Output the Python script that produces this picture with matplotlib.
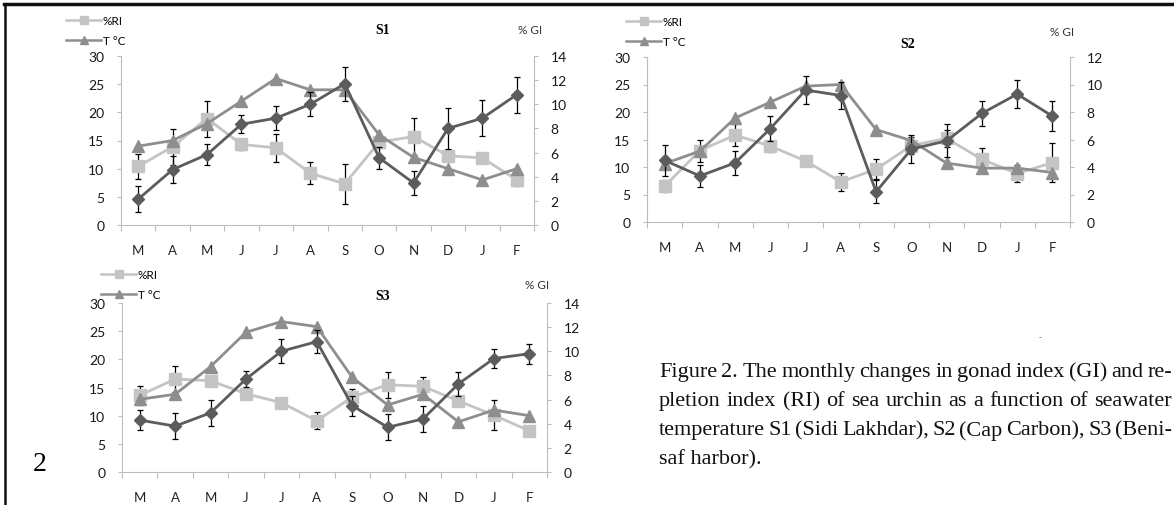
import matplotlib
matplotlib.use("Agg")
import matplotlib.pyplot as plt
from matplotlib.lines import Line2D

# data
months = ['M', 'A', 'M', 'J', 'J', 'A', 'S', 'O', 'N', 'D', 'J', 'F']

# S1 (Sidi Lakhdar)
t1 = [14, 15, 18, 22, 26, 24, 24, 16, 12, 10, 8, 10]
ri1 = [10.4, 13.9, 18.9, 14.3, 13.7, 9.2, 7.3, 14.7, 15.7, 12.3, 11.9, 8.0]
ri1_err = [2.2, 3.2, 3.2, 1.0, 2.5, 1.9, 3.5, 1.0, 3.3, 1.0, 0.8, 1.0]
gi1 = [2.14, 4.59, 5.84, 8.35, 8.85, 10.0, 11.7, 5.57, 3.48, 8.0, 8.85, 10.8]
gi1_err = [1.1, 1.1, 0.9, 0.75, 1.0, 1.0, 1.4, 0.9, 1.0, 1.7, 1.5, 1.5]

# S2 (Cap Carbon)
t2 = [10.6, 12.9, 18.9, 21.8, 24.7, 25.0, 16.8, 14.8, 10.7, 9.8, 9.8, 9.0]
ri2 = [6.5, 13.0, 15.8, 13.8, 11.1, 7.3, 9.6, 13.9, 15.2, 11.4, 8.8, 10.8]
ri2_err = [1.1, 2.0, 2.0, 1.0, 0.8, 1.6, 1.8, 1.5, 1.5, 2.1, 1.5, 3.6]
gi2 = [4.48, 3.35, 4.3, 6.8, 9.6, 9.2, 2.2, 5.3, 5.9, 7.9, 9.3, 7.7]
gi2_err = [1.1, 0.8, 0.85, 0.9, 1.05, 0.97, 0.85, 1.0, 1.2, 0.93, 1.0, 1.1]

# S3 (Beni-saf harbor)
t3 = [12.9, 13.8, 18.7, 24.8, 26.7, 25.8, 16.8, 11.9, 13.8, 8.9, 11.0, 10.0]
ri3 = [13.6, 16.5, 16.2, 13.9, 12.3, 9.1, 13.3, 15.5, 15.2, 12.6, 10.1, 7.3]
ri3_err = [1.7, 2.3, 0.7, 0.7, 0.7, 1.5, 1.4, 2.3, 1.7, 0.8, 2.6, 0.8]
gi3 = [4.3, 3.8, 4.9, 7.7, 10.0, 10.8, 5.5, 3.7, 4.4, 7.3, 9.4, 9.8]
gi3_err = [0.83, 1.1, 1.08, 0.64, 1.0, 0.97, 0.83, 1.08, 1.05, 0.97, 0.78, 0.83]

caption = ["Figure 2. The monthly changes in gonad index (GI) and re-",
           "pletion index (RI) of sea urchin as a function of seawater",
           "temperature S1 (Sidi Lakhdar), S2 (Cap Carbon), S3 (Beni-",
           "saf harbor)."]

W, H = 1174, 506
RI_COL = '#c4c4c4'
T_COL = '#8e8e8e'
GI_COL = '#5c5c5c'
SPINE = '#bdbdbd'
TICKFONT = 'Lato'

fig = plt.figure(figsize=(W / 100, H / 100), dpi=100)


def px_box(left, right, top, bottom):
    return [left / W, 1 - bottom / H, (right - left) / W, (bottom - top) / H]


def panel(box, title, t, ri, ri_err, gi, gi_err, gi_max, title_xy, gi_xy, leg_xy):
    ax = fig.add_axes(px_box(*box))
    x = list(range(1, 13))
    ax.errorbar(x, ri, yerr=ri_err, color=RI_COL, marker='s', ms=8.5, lw=2,
                ecolor='black', elinewidth=0.9, capsize=2.5, capthick=0.9, zorder=2)
    ax.plot(x, t, color=T_COL, marker='^', ms=8, lw=2, zorder=3)
    ax.set_ylim(0, 30)
    ax.set_yticks(range(0, 31, 5))
    ax.set_xlim(0.5, 12.5)
    ax.set_xticks([i + 0.5 for i in range(0, 13)], minor=False)
    ax.set_xticklabels([])
    ax.set_xticks(x, minor=True)
    ax.set_xticklabels(months, minor=True)
    ax.tick_params(axis='x', which='major', length=4, color=SPINE, direction='out')
    ax.tick_params(axis='x', which='minor', length=0, pad=14, labelsize=9.5,
                   labelcolor='#222222')
    ax.tick_params(axis='y', length=3, color=SPINE, pad=9, labelsize=10,
                   labelcolor='#1a1a1a')
    for lab in ax.get_xticklabels(minor=True) + ax.get_yticklabels():
        lab.set_family(TICKFONT)
    for s in ['top', 'right']:
        ax.spines[s].set_visible(False)
    ax.spines['left'].set_color(SPINE)
    ax.spines['bottom'].set_color(SPINE)

    ax2 = ax.twinx()
    ax2.errorbar(x, gi, yerr=gi_err, color=GI_COL, marker='D', ms=6.5, lw=2,
                 ecolor='black', elinewidth=0.9, capsize=2.5, capthick=0.9)
    ax2.set_ylim(0, gi_max)
    ax2.set_yticks(range(0, gi_max + 1, 2))
    ax2.tick_params(axis='y', length=3, color=SPINE, pad=9, labelsize=10,
                    labelcolor='#1a1a1a')
    for lab in ax2.get_yticklabels():
        lab.set_family(TICKFONT)
    for s in ['top', 'left', 'bottom']:
        ax2.spines[s].set_visible(False)
    ax2.spines['right'].set_color(SPINE)

    fig.text(title_xy[0] / W, 1 - title_xy[1] / H, title, family='Liberation Serif',
             weight='bold', fontsize=10, ha='center', va='center')
    fig.text(gi_xy[0] / W, 1 - gi_xy[1] / H, '% GI', family=TICKFONT,
             fontsize=8.5, ha='center', va='center', color='#333333')

    handles = [Line2D([], [], color=RI_COL, marker='s', ms=6, lw=1.8),
               Line2D([], [], color=T_COL, marker='^', ms=6, lw=1.8)]
    fig.legend(handles, ['%RI', 'T °C'], loc='upper left',
               bbox_to_anchor=(leg_xy[0] / W, 1 - leg_xy[1] / H),
               frameon=False, borderpad=0, borderaxespad=0, handlelength=3.0,
               handletextpad=0.1, labelspacing=0.8,
               prop={'family': TICKFONT, 'size': 8.5})
    return ax


panel((121, 534, 57, 226), 'S1', t1, ri1, ri1_err, gi1, gi1_err, 14,
      (383, 30), (530, 31), (66, 16))
panel((647, 1070, 58, 223), 'S2', t2, ri2, ri2_err, gi2, gi2_err, 12,
      (908, 45), (1062, 32), (626, 17))
panel((122, 547, 304, 473), 'S3', t3, ri3, ri3_err, gi3, gi3_err, 14,
      (383, 297), (537, 286), (101, 270))

# caption block, justified like the printed page
renderer = fig.canvas.get_renderer()
x0, x1 = 659, 1172
for i, line in enumerate(caption):
    y = 1 - (373 + 29 * i) / H
    style = dict(family='Liberation Serif', fontsize=16, ha='left', va='center',
                 color='#111111')
    if i == len(caption) - 1:
        fig.text(x0 / W, y, line, **style)
        continue
    words = line.split(' ')
    arts = [fig.text(0, y, w, **style) for w in words]
    widths = [a.get_window_extent(renderer).width for a in arts]
    gap = (x1 - x0 - sum(widths)) / (len(words) - 1)
    xpos = x0
    for a, wd in zip(arts, widths):
        a.set_x(xpos / W)
        xpos += wd + gap

fig.text(40 / W, 1 - 465 / H, '2', family='Liberation Serif', fontsize=20,
         ha='center', va='center')
fig.text(1040 / W, 1 - 338 / H, '-', family='Liberation Sans', fontsize=6,
         ha='center', va='center', color='#444444')

# page border
fig.add_artist(Line2D([4 / W, 1], [1 - 5 / H, 1 - 5 / H], color='#111111', lw=2.5))
fig.add_artist(Line2D([5 / W, 5 / W], [0, 1 - 5 / H], color='#111111', lw=1.8))

fig.savefig('out.png', dpi=100)
